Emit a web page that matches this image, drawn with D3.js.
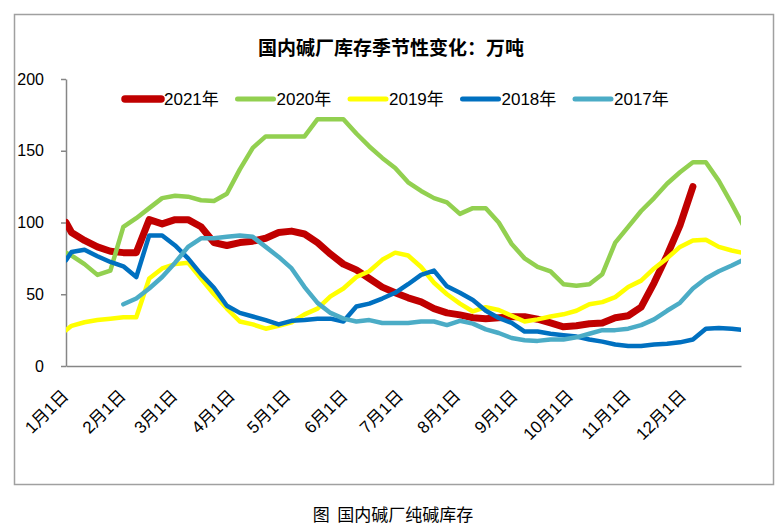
<!DOCTYPE html>
<html>
<head>
<meta charset="utf-8">
<script src="https://cdn.jsdelivr.net/npm/d3@7/dist/d3.min.js"></script>
<style>
  html, body { margin: 0; padding: 0; background: #fff; }
  svg { display: block; }
</style>
</head>
<body>
<svg id="chart" width="779" height="525"></svg>
<script>
// ---------------- DATA ----------------
const titleText = "国内碱厂库存季节性变化：万吨";
const captionText = "图  国内碱厂纯碱库存";
const seriesNames = ["2021年", "2020年", "2019年", "2018年", "2017年"];
const seriesColors = ["#C00000", "#92D050", "#FFFF00", "#0070C0", "#4BACC6"];

// day of year of each observation (first point, then weekly)
const obsDays = [0, 3, 10, 17, 24, 31, 38, 45, 52, 59, 66, 73, 80, 87, 94, 101, 108, 115, 122,
  129, 136, 143, 150, 157, 164, 171, 178, 185, 192, 199, 206, 213, 220, 227, 234, 241, 248,
  255, 262, 269, 276, 283, 290, 297, 304, 311, 318, 325, 332, 339, 346, 353, 360, 367];

const v2021 = [100, 93, 87.5, 83, 80, 79, 79, 102, 99, 102, 102, 97, 86, 84, 86, 87, 89, 93, 94,
  92, 86, 78, 71, 67, 61, 55, 51, 47.5, 44.7, 40, 37, 35.6, 33.6, 33, 33.6, 34.3, 34.3, 32.6,
  30, 27.3, 28, 29.4, 30, 33.6, 35, 41, 58, 77, 98, 125, null, null, null, null];
const v2020 = [79, 77, 71, 63.5, 66.5, 97, 103, 110, 117, 118.7, 118, 115.5, 115, 120, 137, 152,
  160, 160, 160, 160, 172, 172, 172, 162, 153, 145, 138, 128, 122, 117, 114, 106, 110, 110, 100,
  85, 75, 69, 66, 57, 56, 57, 64, 86, 97, 108, 117, 127, 135, 142, 142, 129, 113, 96];
const v2019 = [25, 28, 30.5, 32, 33, 34, 34, 61, 68, 71, 72, 61, 50, 40, 31, 29, 26, 28, 30.5,
  36, 40, 48.5, 54, 62, 66, 74, 79, 77, 69, 58, 50, 43.5, 38, 41, 39, 35, 31, 32.5, 34.5, 36,
  38.5, 43, 44.5, 48, 55, 59.5, 68, 75, 83, 87.5, 88, 83, 80.5, 78.5];
const v2018 = [73.6, 79.5, 81, 76.5, 72.5, 69.5, 62, 91, 91, 84, 75, 64, 54.5, 42, 37, 34.5, 32,
  29, 31.5, 32, 33, 33, 31, 41.5, 43.5, 47, 51, 57, 63.5, 66.5, 55.5, 51, 46, 38.5, 33.5, 30,
  24, 24, 22.5, 21.5, 20.5, 18.5, 17, 15, 14, 14, 15, 15.5, 16.5, 18.5, 26, 26.5, 26, 25];
const v2017 = [null, null, null, null, null, 43, 47, 54, 62, 72, 83, 89, 89, 90, 91, 90, 83, 76,
  68, 55, 44, 37, 33, 31, 32, 30, 30, 30, 31, 31, 28.5, 31.5, 29.5, 25.5, 23, 19.5, 18, 17.5,
  18.5, 18.5, 20, 22.5, 25, 25, 26, 28.5, 32.5, 38.5, 44, 54, 61, 66, 70, 74.5];

const yTicks = [0, 50, 100, 150, 200];
const monthTickDays = [0, 31, 59, 90, 120, 151, 181, 212, 243, 273, 304, 334];
const monthTickLabels = ["1月1日", "2月1日", "3月1日", "4月1日", "5月1日", "6月1日",
  "7月1日", "8月1日", "9月1日", "10月1日", "11月1日", "12月1日"];

const seriesValues = [v2021, v2020, v2019, v2018, v2017];

// ---------------- LAYOUT ----------------
const svg = d3.select("#chart");
const plot = { left: 66, right: 741, top: 79, bottom: 366 };
const latin = "'Liberation Sans Narrow', 'Arial Narrow', 'Liberation Sans', Arial, 'Noto Sans CJK SC', sans-serif";
const cjk = "'Noto Sans CJK SC', 'Liberation Sans', sans-serif";
const axisColor = "#868686";

const x = d3.scaleLinear().domain([0, 365]).range([plot.left, plot.right]);
const y = d3.scaleLinear().domain([0, 200]).range([plot.bottom, plot.top]);

// outer frame
svg.append("rect")
  .attr("x", 14.5).attr("y", 14.5).attr("width", 759).attr("height", 470)
  .attr("fill", "#fff").attr("stroke", "#A0A0A0").attr("stroke-width", 1.5);

// title
svg.append("text")
  .attr("x", 391).attr("y", 55)
  .attr("text-anchor", "middle")
  .attr("font-family", cjk).attr("font-weight", "bold").attr("font-size", 19)
  .attr("fill", "#000")
  .text(titleText);

// y axis
const yAxis = d3.axisLeft(y).tickValues(yTicks).tickSize(5).tickSizeOuter(0).tickPadding(17);
const gy = svg.append("g").attr("transform", `translate(${plot.left},0)`).call(yAxis);
gy.select(".domain").attr("stroke", axisColor).attr("stroke-width", 1.5);
gy.selectAll(".tick line").attr("stroke", axisColor).attr("stroke-width", 1.5);
gy.selectAll(".tick text")
  .attr("font-family", "'Liberation Sans', Arial, sans-serif").attr("font-size", 16)
  .attr("fill", "#000");

// x axis
const xAxis = d3.axisBottom(x).tickValues(monthTickDays)
  .tickFormat((d, i) => monthTickLabels[i]).tickSize(0).tickSizeOuter(0);
const gx = svg.append("g").attr("transform", `translate(0,${plot.bottom})`).call(xAxis);
gx.select(".domain").attr("stroke", axisColor).attr("stroke-width", 1.5);
gx.selectAll(".tick text")
  .attr("x", 0).attr("y", 0).attr("dy", 0)
  .attr("text-anchor", "end")
  .attr("transform", "translate(3,31) rotate(-45)")
  .attr("font-family", latin).attr("font-size", 17)
  .attr("fill", "#000");

// clip for plot
svg.append("clipPath").attr("id", "plotclip")
  .append("rect").attr("x", plot.left).attr("y", 0)
  .attr("width", plot.right - plot.left).attr("height", plot.bottom + 10);

const line = d3.line()
  .defined(d => d.v != null)
  .x(d => x(d.day))
  .y(d => y(d.v));

const gLines = svg.append("g").attr("clip-path", "url(#plotclip)");
seriesValues.forEach((vals, i) => {
  const pts = obsDays.map((day, j) => ({ day, v: vals[j] }));
  gLines.append("path")
    .datum(pts)
    .attr("d", line)
    .attr("fill", "none")
    .attr("stroke", seriesColors[i])
    .attr("stroke-width", i === 0 ? 7 : 4.5)
    .attr("stroke-linejoin", "round")
    .attr("stroke-linecap", "round");
});

// legend
const legendY = 99;
const legendStart = 123, legendStep = 112.5, sampleLen = 38;
const gLeg = svg.append("g");
seriesNames.forEach((name, i) => {
  const lx = legendStart + i * legendStep;
  gLeg.append("line")
    .attr("x1", lx + 2).attr("x2", lx + sampleLen)
    .attr("y1", legendY).attr("y2", legendY)
    .attr("stroke", seriesColors[i])
    .attr("stroke-width", i === 0 ? 7.5 : 5)
    .attr("stroke-linecap", "round");
  gLeg.append("text")
    .attr("x", lx + sampleLen + 3).attr("y", legendY).attr("dy", "0.36em")
    .attr("font-family", latin).attr("font-size", 17)
    .attr("fill", "#000")
    .text(name);
});

// caption
svg.append("text")
  .attr("x", 393).attr("y", 521)
  .attr("text-anchor", "middle")
  .attr("font-family", cjk).attr("font-size", 17)
  .attr("fill", "#000")
  .style("white-space", "pre")
  .text(captionText);
</script>
</body>
</html>
